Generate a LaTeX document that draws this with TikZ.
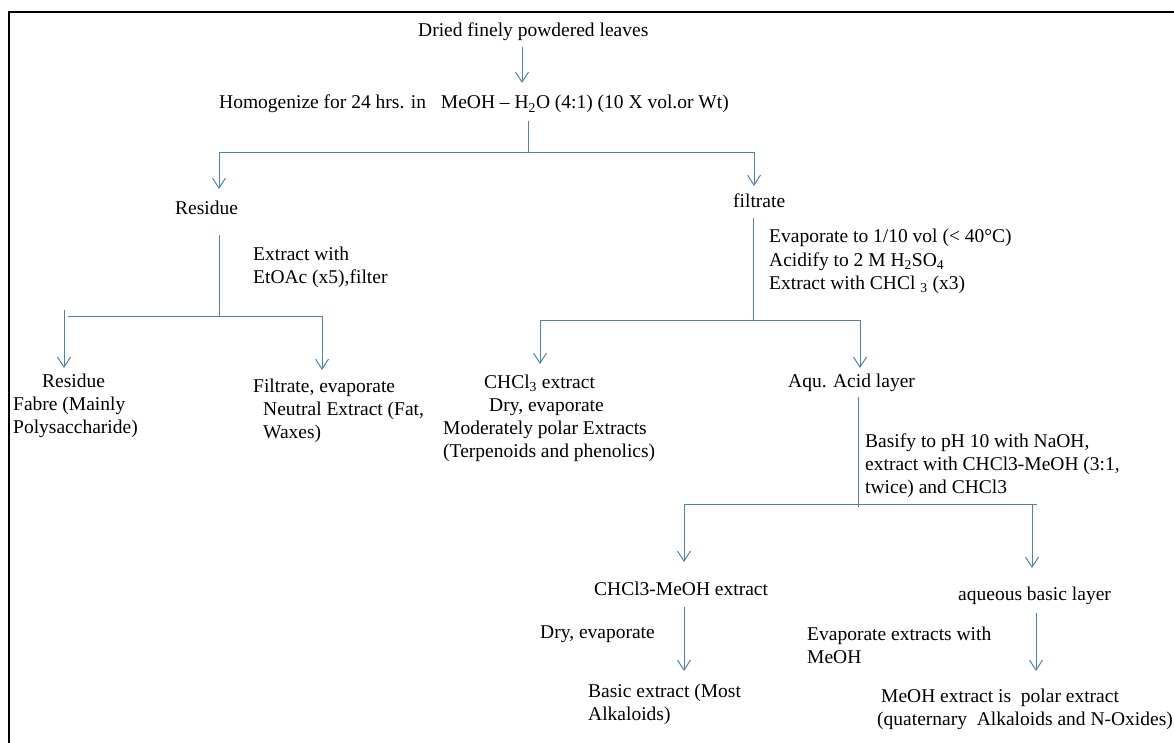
\documentclass[tikz,border=0pt]{standalone}
\usepackage{fontspec}
\setmainfont{Liberation Serif}
\usetikzlibrary{arrows.meta}
\definecolor{lineblue}{RGB}{79,129,189}
\newcommand\fs{\fontsize{19.5}{23.3}\selectfont}
\newcommand\rows[1]{\begin{tabular}[t]{@{}l@{}}#1\end{tabular}}
\tikzset{
 txt/.style={anchor=base west, inner sep=0pt, font=\fs},
 conn/.style={draw=lineblue, line width=1pt},
 arr/.style={conn, -{Straight Barb[length=10pt,width=13pt]}},
 arr2/.style={conn, {Straight Barb[length=10pt,width=13pt]}-{Straight Barb[length=10pt,width=13pt]}},
 frameline/.style={draw=black, line width=2pt}
}
\begin{document}
\begin{tikzpicture}[x=1pt,y=-1pt]
\useasboundingbox (0,0) rectangle (1174,743);
\draw[frameline] (9,743) -- (9,12) -- (1174,12);

% texts
\node[txt] (dried) at (418,37) {Dried finely powdered leaves};
\node[txt] (homog) at (219,109) {Homogenize for 24 hrs. in\hspace{10pt} MeOH -- H\textsubscript{2}O (4:1) (10 X vol.or Wt)};
\node[txt] (res1) at (175,215) {Residue};
\node[txt] (filt1) at (733,208) {filtrate};
\node[txt] (etoac) at (253,260) {\rows{Extract with\\EtOAc (x5),filter}};
\node[txt] (res2) at (13,387) {\rows{\hspace{29pt}Residue\\Fabre (Mainly\\Polysaccharide)}};
\node[txt] (filt2) at (253,392) {\rows{Filtrate, evaporate\\\hspace{10pt}Neutral Extract (Fat,\\\hspace{10pt}Waxes)}};
\node[txt] (evap) at (769,243) {\rows{Evaporate to 1/10 vol (< 40°C)\\Acidify to 2 M H\textsubscript{2}SO\textsubscript{4}\\Extract with CHCl \textsubscript{3} (x3)}};
\node[txt] (chcl) at (443,388) {\rows{\hspace{41pt}CHCl\textsubscript{3} extract\\\hspace{46pt}Dry, evaporate\\Moderately polar Extracts\\(Terpenoids and phenolics)}};
\node[txt] (aqu) at (788,387) {Aqu. Acid layer};
\node[txt] (basify) at (865,447) {\rows{Basify to pH 10 with NaOH,\\extract with CHCl3-MeOH (3:1,\\twice) and CHCl3}};
\node[txt] (cmext) at (594,595) {CHCl3-MeOH extract};
\node[txt] (dry2) at (540,638) {Dry, evaporate};
\node[txt] (basic) at (588,697) {\rows{Basic extract (Most\\Alkaloids)}};
\node[txt] (aqb) at (958,600) {aqueous basic layer};
\node[txt] (evme) at (807,640) {\rows{Evaporate extracts with\\MeOH}};
\node[txt] (polar) at (877,702) {\rows{\hspace{4pt}MeOH extract is\ \ polar extract\\(quaternary\ \ Alkaloids and N-Oxides)}};

% junction coordinates
\coordinate (a0) at (522,47);   \coordinate (a0t) at (522,83);
\coordinate (b0) at (528,121);  \coordinate (b1) at (528,153);
\coordinate (bl) at (219,153);  \coordinate (blt) at (219,189);
\coordinate (br) at (754,153);  \coordinate (brt) at (754,186);
\coordinate (c0) at (219,235);  \coordinate (c1) at (219,316);
\coordinate (cl) at (68,316);   \coordinate (cr) at (322,316);  \coordinate (crt) at (322,370);
\coordinate (cl2) at (64,310);  \coordinate (cl2t) at (64,368);
\coordinate (d0) at (753,218);  \coordinate (d1) at (753,320);
\coordinate (dl) at (540,320);  \coordinate (dlt) at (540,364);
\coordinate (dr) at (860,320);  \coordinate (drt) at (860,368);
\coordinate (e0) at (858,397);  \coordinate (e1) at (858,507);
\coordinate (el) at (684,504);  \coordinate (elt) at (684,562);
\coordinate (er) at (1037,504); \coordinate (er2) at (1032,504); \coordinate (er2t) at (1032,568);
\coordinate (f0) at (684,607);  \coordinate (f0t) at (684,671);
\coordinate (g0) at (1036,613); \coordinate (g0t) at (1036,671);

% connectors
\draw[arr] (a0) -- (a0t);
\draw[conn] (b0) -- (b1);
\draw[arr2] (blt) -- (bl) -- (br) -- (brt);
\draw[conn] (c0) -- (c1);
\draw[conn] (cl) -- (cr);
\draw[arr] (cr) -- (crt);
\draw[arr] (cl2) -- (cl2t);
\draw[conn] (d0) -- (d1);
\draw[arr2] (dlt) -- (dl) -- (dr) -- (drt);
\draw[conn] (e0) -- (e1);
\draw[conn] (el) -- (er);
\draw[arr] (el) -- (elt);
\draw[arr] (er2) -- (er2t);
\draw[arr] (f0) -- (f0t);
\draw[arr] (g0) -- (g0t);
\end{tikzpicture}
\end{document}
